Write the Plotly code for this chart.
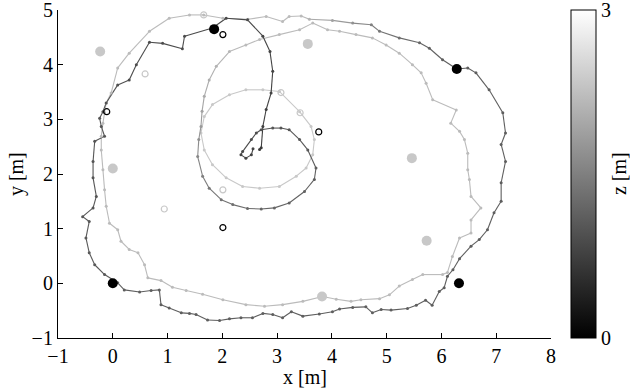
import plotly.graph_objects as go

# inner spiral arm, starting at the centre hook (x, y in m, z in m)
arm_x = [2.56, 2.53, 2.43, 2.34, 2.37, 2.53, 2.62, 2.71, 2.92, 3.07, 3.22, 3.41, 3.56, 3.71, 3.68, 3.50,
         3.22, 2.95, 2.71, 2.46, 2.19, 1.98, 1.76, 1.64, 1.55, 1.57, 1.61, 1.63, 1.67, 1.76, 1.89, 2.13,
         2.43, 2.68, 3.04, 3.41]
arm_y = [2.46, 2.35, 2.29, 2.35, 2.41, 2.63, 2.75, 2.81, 2.84, 2.84, 2.81, 2.63, 2.44, 2.11, 1.90, 1.68,
         1.47, 1.38, 1.36, 1.37, 1.44, 1.53, 1.74, 1.96, 2.32, 2.63, 2.87, 3.15, 3.42, 3.72, 3.97, 4.24,
         4.36, 4.46, 4.55, 4.64]
arm_z = [0.8, 0.8, 0.8, 0.8, 0.85, 0.9, 0.9, 0.95, 1.0, 1.0, 1.0, 1.05, 1.05, 1.1, 1.1, 1.15,
         1.15, 1.2, 1.2, 1.25, 1.3, 1.35, 1.4, 1.5, 1.6, 1.7, 1.8, 1.9, 2.0, 2.05, 2.1, 2.15,
         2.2, 2.2, 2.2, 2.2]

# middle (light) loop
loop_x = [3.65, 3.92, 4.14, 4.44, 4.74, 4.99, 5.23, 5.47, 5.63, 5.72, 5.84, 6.27, 6.17, 6.33, 6.42, 6.48,
          6.48, 6.51, 6.54, 6.72, 6.54, 6.54, 6.33, 6.20, 6.11, 6.02, 5.66, 5.47, 5.23, 5.05, 4.87, 4.53,
          4.35, 4.08, 3.83, 3.47, 3.10, 2.77, 2.43, 2.01, 1.64, 1.34, 1.09, 0.88, 0.64, 0.58, 0.46, 0.30,
          0.15, 0.09, -0.06, -0.12, -0.15, -0.18, -0.21, -0.21, -0.18, -0.15, -0.12, -0.03, 0.09, 0.30,
          0.67, 1.03, 1.40, 1.66, 2.01, 2.47, 2.80, 3.10, 3.22, 3.44]
loop_y = [4.76, 4.64, 4.61, 4.55, 4.49, 4.36, 4.21, 4.00, 3.85, 3.66, 3.36, 3.17, 2.93, 2.78, 2.63, 2.38,
          2.08, 1.90, 1.59, 1.38, 1.16, 0.92, 0.83, 0.49, 0.20, 0.16, 0.16, 0.07, -0.05, -0.21, -0.28, -0.30,
          -0.33, -0.29, -0.24, -0.33, -0.39, -0.42, -0.39, -0.30, -0.20, -0.13, -0.07, 0.05, 0.10, 0.34, 0.56, 0.62,
          0.77, 0.98, 1.10, 1.41, 1.71, 2.08, 2.44, 2.69, 2.93, 3.12, 3.30, 3.48, 3.94, 4.21,
          4.61, 4.85, 4.91, 4.91, 4.85, 4.83, 4.88, 4.79, 4.88, 4.89]
loop_z = [2.2, 2.2, 2.2, 2.2, 2.2, 2.2, 2.2, 2.2, 2.2, 2.2, 2.2, 2.2, 2.2, 2.2, 2.2, 2.2,
          2.2, 2.2, 2.2, 2.2, 2.2, 2.2, 2.2, 2.2, 2.2, 2.2, 2.2, 2.2, 2.2, 2.2, 2.2, 2.2,
          2.2, 2.2, 2.2, 2.2, 2.2, 2.2, 2.2, 2.2, 2.2, 2.2, 2.2, 2.2, 2.2, 2.2, 2.2, 2.2,
          2.2, 2.2, 2.2, 2.2, 2.2, 2.2, 2.2, 2.2, 2.2, 2.2, 2.2, 2.2, 2.2, 2.2,
          2.2, 2.2, 2.2, 2.2, 2.2, 2.2, 2.2, 2.2, 2.2, 2.2]

# outer (dark) loop and the final descent to the centre
outer_x = [3.59, 4.01, 4.38, 4.72, 4.87, 5.23, 5.60, 5.78, 6.02, 6.28, 6.48, 6.63, 6.87, 7.12, 7.17, 7.09,
           7.17, 7.09, 7.09, 6.96, 6.84, 6.69, 6.54, 6.33, 6.21, 6.11, 6.05, 5.96, 5.83, 5.71, 5.54, 5.38,
           5.08, 4.90, 4.74, 4.62, 4.38, 4.14, 4.01, 3.77, 3.47, 3.26, 3.10, 2.92, 2.74, 2.55, 2.34, 2.13,
           1.95, 1.73, 1.52, 1.40, 1.25, 1.03, 0.88, 0.85, 0.70, 0.49, 0.21, 0.09, -0.15, -0.33, -0.43, -0.49,
           -0.43, -0.55, -0.36, -0.30, -0.36, -0.36, -0.33, -0.15, -0.21, -0.24, -0.18, -0.12, 0.09, 0.30,
           0.43, 0.67, 0.91, 1.27, 1.31, 1.82, 2.07, 2.46, 2.74, 2.87, 2.92, 2.89, 2.80, 2.74, 2.71, 2.68]
outer_y = [4.83, 4.81, 4.76, 4.73, 4.61, 4.49, 4.40, 4.30, 4.09, 3.92, 3.94, 3.85, 3.54, 3.12, 2.75, 2.54,
           2.23, 1.84, 1.50, 1.29, 0.98, 0.80, 0.68, 0.45, 0.25, 0.13, -0.08, -0.15, -0.40, -0.31, -0.40, -0.46,
           -0.49, -0.48, -0.54, -0.43, -0.44, -0.47, -0.52, -0.56, -0.60, -0.52, -0.63, -0.57, -0.55, -0.63, -0.63, -0.65,
           -0.68, -0.67, -0.57, -0.55, -0.54, -0.45, -0.39, -0.12, -0.13, -0.16, -0.12, 0.01, 0.16, 0.34, 0.56, 0.83,
           1.13, 1.22, 1.38, 1.59, 1.93, 2.23, 2.60, 2.69, 2.87, 3.02, 3.14, 3.30, 3.63, 3.72,
           4.00, 4.41, 4.39, 4.29, 4.52, 4.67, 4.85, 4.82, 4.52, 4.24, 3.88, 3.48, 3.18, 2.87, 2.48, 2.45]
outer_z = [2.1, 1.9, 1.7, 1.5, 1.4, 1.3, 1.2, 1.15, 1.1, 1.1, 1.1, 1.1, 1.1, 1.1, 1.1, 1.1,
           1.1, 1.1, 1.1, 1.1, 1.1, 1.1, 1.1, 1.1, 1.1, 1.1, 1.1, 1.1, 1.1, 1.1, 1.1, 1.1,
           1.1, 1.1, 1.1, 1.1, 1.1, 1.1, 1.1, 1.1, 1.1, 1.1, 1.1, 1.1, 1.1, 1.1, 1.1, 1.1,
           1.1, 1.1, 1.1, 1.1, 1.1, 1.1, 1.1, 1.1, 1.1, 1.1, 1.1, 1.1, 1.05, 1.05, 1.05, 1.05,
           1.05, 1.0, 1.0, 1.0, 1.0, 1.0, 1.0, 1.0, 1.0, 1.0, 0.95, 0.95, 0.95, 0.9,
           0.9, 0.9, 0.9, 0.9, 0.9, 0.85, 0.85, 0.85, 0.8, 0.8, 0.8, 0.8, 0.75, 0.75, 0.7, 0.7]

# circle around the centre
circ_x = [3.04, 3.41, 3.62, 3.68, 3.65, 3.53, 3.35, 3.04, 2.68, 2.37, 2.07, 1.82, 1.67, 1.61, 1.67, 1.82,
          2.13, 2.43, 2.74, 3.04]
circ_y = [3.51, 3.14, 2.87, 2.63, 2.35, 2.11, 1.96, 1.77, 1.74, 1.77, 1.93, 2.17, 2.44, 2.75, 3.05, 3.27,
          3.45, 3.54, 3.54, 3.51]
circ_z = [2.35, 2.35, 2.35, 2.35, 2.35, 2.35, 2.35, 2.35, 2.35, 2.35, 2.35, 2.35, 2.35, 2.35, 2.35, 2.35,
          2.35, 2.35, 2.35, 2.35]

# anchors (filled) and estimates (open)
anchor_x = [0.0, 1.85, 6.28, 6.32, -0.23, 3.56, 5.46, 5.73, 3.82, 0.0]
anchor_y = [0.0, 4.65, 3.92, 0.0, 4.24, 4.38, 2.29, 0.78, -0.24, 2.1]
anchor_z = [0.0, 0.0, 0.0, 0.0, 2.35, 2.35, 2.35, 2.35, 2.35, 2.35]

est_x = [2.01, -0.11, 3.76, 2.01, 0.59, 0.94, 2.01, 3.42, 3.07, 1.66]
est_y = [4.55, 3.14, 2.77, 1.02, 3.83, 1.36, 1.71, 3.12, 3.49, 4.91]
est_z = [0.0, 0.0, 0.0, 0.0, 2.35, 2.35, 2.35, 2.35, 2.35, 2.35]

cbar_ticks = [0, 3]

GRAY = [[0, "rgb(0,0,0)"], [1, "rgb(255,255,255)"]]
FONT = dict(family="Liberation Serif", size=20, color="black")


def gray(z):
    g = int(round(255 * min(max(z / 3.0, 0.0), 1.0)))
    return f"rgb({g},{g},{g})"


fig = go.Figure()


def add_path(xs, ys, zs):
    for i in range(len(xs) - 1):
        fig.add_trace(go.Scatter(x=xs[i:i + 2], y=ys[i:i + 2], mode="lines",
                                 line=dict(color=gray((zs[i] + zs[i + 1]) / 2), width=1.1),
                                 hoverinfo="skip", showlegend=False))
    fig.add_trace(go.Scatter(x=xs, y=ys, mode="markers", showlegend=False,
                             marker=dict(size=3, color=zs, colorscale=GRAY, cmin=0, cmax=3)))


add_path(circ_x, circ_y, circ_z)
add_path(arm_x + loop_x + outer_x, arm_y + loop_y + outer_y, arm_z + loop_z + outer_z)

fig.add_trace(go.Scatter(x=est_x, y=est_y, mode="markers", showlegend=False,
                         marker=dict(symbol="circle-open", size=6, color=est_z, colorscale=GRAY,
                                     cmin=0, cmax=3, line=dict(width=1.2))))
fig.add_trace(go.Scatter(
    x=anchor_x, y=anchor_y, mode="markers", showlegend=False,
    marker=dict(size=10, color=anchor_z, colorscale=GRAY, cmin=0, cmax=3, showscale=True,
                colorbar=dict(thickness=25, thicknessmode="pixels", len=1, lenmode="fraction",
                              x=1.0406, xanchor="left", xpad=0, y=0.5, yanchor="middle", ypad=0,
                              tickvals=cbar_ticks, ticktext=[str(t) for t in cbar_ticks], ticks="",
                              ticklabeloverflow="allow",
                              outlinecolor="black", outlinewidth=1, tickfont=FONT))))

axis = dict(showgrid=False, zeroline=False, showline=True, linecolor="black", linewidth=1.2,
            ticks="inside", ticklen=5, tickwidth=1, tickcolor="black", tickfont=FONT, dtick=1, tick0=0,
            ticklabeloverflow="allow")
fig.update_xaxes(range=[-1, 8], **axis)
fig.update_yaxes(range=[-1, 5], **axis)

fig.update_layout(
    width=630, height=389,
    margin=dict(l=58, r=79, t=10, b=51, autoexpand=False),
    plot_bgcolor="white", paper_bgcolor="white",
    annotations=[
        dict(text="x [m]", x=0.5, y=-0.119, xref="paper", yref="paper", showarrow=False,
             xanchor="center", yanchor="middle", font=FONT),
        dict(text="y [m]", x=-0.085, y=0.5, xref="paper", yref="paper", showarrow=False,
             textangle=-90, xanchor="center", yanchor="middle", font=FONT),
        dict(text="z [m]", x=1.138, y=0.5, xref="paper", yref="paper", showarrow=False,
             textangle=-90, xanchor="center", yanchor="middle", font=FONT),
    ],
)

fig.write_html("out.html", config={"displayModeBar": False},
               post_script="document.body.style.margin='0';document.body.style.overflow='hidden';")
